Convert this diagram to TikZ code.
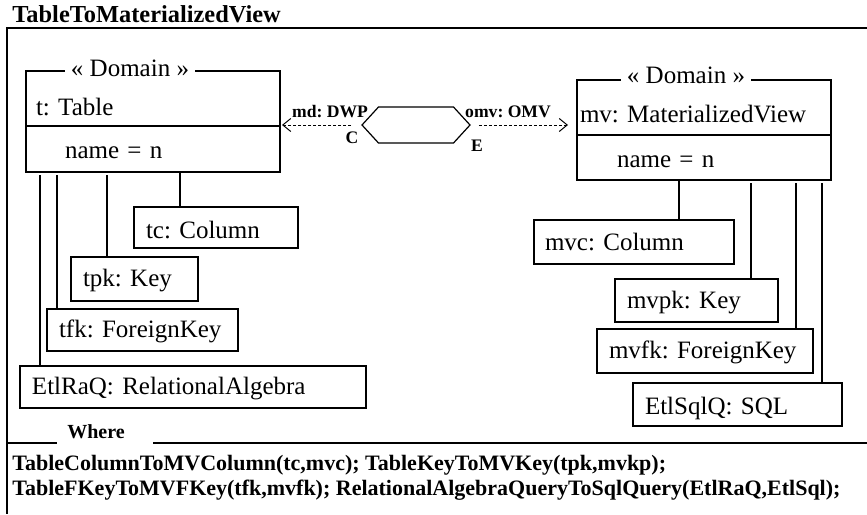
\documentclass[tikz,border=0pt]{standalone}
\usepackage{fontspec}
\setmainfont{Liberation Serif}
\usetikzlibrary{positioning,shapes.symbols,arrows.meta}
\frenchspacing

\tikzset{
  obj/.style={draw, line width=0.6pt, anchor=north west, outer sep=0pt,
    inner xsep=6pt, inner ysep=0pt, align=left, text height=7.5pt, text depth=0pt,
    font=\fontsize{12.5}{14}\selectfont},
  stereo/.style={fill=white, inner xsep=3pt, inner ysep=1pt, anchor=base,
    font=\fontsize{12.5}{14}\selectfont},
  lbl/.style={inner sep=0pt, anchor=base, font=\bfseries\fontsize{8.8}{10}\selectfont},
  link/.style={line width=0.6pt},
  dep/.style={->, dash pattern=on 1.5pt off 1pt, line width=0.5pt},
  frame/.style={line width=0.8pt},
}

\begin{document}
\begin{tikzpicture}[x=0.5pt, y=-0.5pt, >={Straight Barb[length=4pt,width=6.5pt]}]
  \useasboundingbox (0,0) rectangle (867,514);

  % outer frame and title
  \node[anchor=base west, inner sep=0pt, font=\bfseries\fontsize{12.2}{14}\selectfont] (title) at (12,22) {TableToMaterializedView};
  \draw[frame] (867,28) -- (7,28) -- (7,514);

  % source side
  \node[obj, minimum height=27.5pt, inner xsep=5pt, text width=117pt, text height=16.5pt] (t) at (26,71) {t: Table};
  \node[obj, minimum height=23pt, inner xsep=19.5pt, text width=88pt, text height=9pt] (tattr) at (t.south west) {name = n};
  \node[stereo] (tstereo) at (130,76) {« Domain »};

  \node[obj, minimum height=20.5pt, text width=70pt, text height=11pt] (tc) at (134,207) {tc: Column};
  \node[obj, minimum height=22pt, text width=51.5pt] (tpk) at (71,257) {tpk: Key};
  \node[obj, minimum height=21pt, text width=83.5pt] (tfk) at (47,309) {tfk: ForeignKey};
  \node[obj, minimum height=21pt, text width=161pt] (etlraq) at (20,366) {EtlRaQ: RelationalAlgebra};

  \draw[link] ([xshift=23pt]tc.north west) -- ([xshift=23pt]tc.north west |- tattr.south);
  \draw[link, shorten >=1.5pt] ([xshift=18pt]tpk.north west) -- ([xshift=18pt]tpk.north west |- tattr.south);
  \draw[link, shorten >=1.5pt] ([xshift=5pt]tfk.north west) -- ([xshift=5pt]tfk.north west |- tattr.south);
  \draw[link, shorten >=1.5pt] ([xshift=10pt]etlraq.north west) -- ([xshift=10pt]etlraq.north west |- tattr.south);

  % target side
  \node[obj, minimum height=27.5pt, inner xsep=1.5pt, text width=124pt, text height=14.5pt] (mv) at (577,80) {mv: MaterializedView};
  \node[obj, minimum height=22.5pt, inner xsep=20pt, text width=87pt, text height=9.5pt] (mvattr) at (mv.south west) {name = n};
  \node[stereo] (mvstereo) at (686,83) {« Domain »};

  \node[obj, minimum height=22pt, inner xsep=5.5pt, text width=89pt, text height=8pt] (mvc) at (534,220) {mvc: Column};
  \node[obj, minimum height=21.5pt, text width=69.5pt] (mvpk) at (615,279) {mvpk: Key};
  \node[obj, minimum height=22pt, text width=96pt] (mvfk) at (597,329) {mvfk: ForeignKey};
  \node[obj, minimum height=21.5pt, text width=92.5pt, text height=10pt] (etlsqlq) at (633,383) {EtlSqlQ: SQL};

  \draw[link] ([xshift=72.5pt]mvc.north west) -- ([xshift=72.5pt]mvc.north west |- mvattr.south);
  \draw[link, shorten >=1.5pt] ([xshift=-13.5pt]mvpk.north east) -- ([xshift=-13.5pt]mvpk.north east |- mvattr.south);
  \draw[link, shorten >=1.5pt] ([xshift=-8.5pt]mvfk.north east) -- ([xshift=-8.5pt]mvfk.north east |- mvattr.south);
  \draw[link, shorten >=1.5pt] ([xshift=-10pt]etlsqlq.north east) -- ([xshift=-10pt]etlsqlq.north east |- mvattr.south);

  % the relation
  \node[signal, draw, line width=0.6pt, signal to=west and east, signal pointer angle=95,
        minimum width=54pt, minimum height=18pt, inner sep=0pt] (rule) at (416,125) {};
  \draw[dep, shorten <=5pt, shorten >=1pt] (rule.west) -- (t.east |- rule.west);
  \draw[dep, shorten <=4pt, shorten >=4.5pt] (rule.east) -- (mv.west |- rule.east);
  \node[lbl] (mdlbl) at (330,117) {md: DWP};
  \node[lbl] (clbl) at (352,143) {C};
  \node[lbl] (omvlbl) at (508,117) {omv: OMV};
  \node[lbl] (elbl) at (477,151) {E};

  % where clause
  \node[anchor=base, inner sep=0pt, font=\bfseries\fontsize{10}{12}\selectfont] (where) at (96,438) {Where};
  \draw[frame] (7,443) -- (57,443);
  \draw[frame] (153,443) -- (867,443);
  \node[anchor=base west, inner sep=0pt, font=\bfseries\fontsize{11}{12}\selectfont] (where1) at (12,470)
    {TableColumnToMVColumn(tc,mvc); TableKeyToMVKey(tpk,mvkp);};
  \node[anchor=base west, inner sep=0pt, font=\bfseries\fontsize{11}{12}\selectfont] (where2) at (12,495)
    {TableFKeyToMVFKey(tfk,mvfk); RelationalAlgebraQueryToSqlQuery(EtlRaQ,EtlSql);};
\end{tikzpicture}
\end{document}
